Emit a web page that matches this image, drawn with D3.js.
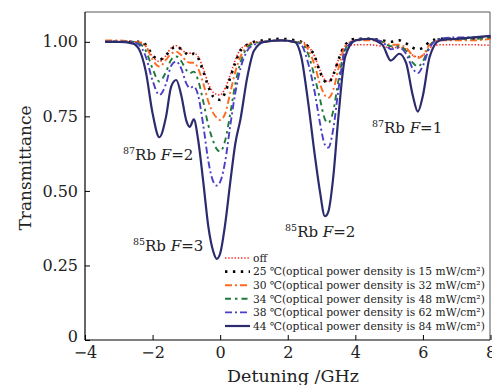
<!DOCTYPE html>
<html><head><meta charset="utf-8">
<script src="https://cdn.jsdelivr.net/npm/d3@7"></script>
<style>
html,body{margin:0;padding:0;background:#fff;}
svg{display:block;font-family:"DejaVu Serif",serif;}
text{font-family:"DejaVu Serif",serif;}
</style></head>
<body><svg id="c" width="492" height="385"></svg>
<script>
// detuning grid (GHz)
const detuning = [-3.4,-3.0,-2.6,-2.4,-2.2,-2.0,-1.8,-1.6,-1.45,-1.3,-1.15,-1.0,-0.9,-0.78,-0.65,-0.5,-0.35,-0.2,-0.1,0.0,0.15,0.3,0.45,0.6,0.8,1.0,1.3,1.8,2.2,2.4,2.6,2.8,2.95,3.1,3.2,3.35,3.5,3.7,4.0,4.4,4.8,5.05,5.3,5.5,5.7,5.85,6.0,6.2,6.5,7.0,7.5,8.0];

const offVals = [1.0,1.0,1.0,1.0,0.985,0.95,0.934,0.955,0.98,0.987,0.975,0.963,0.962,0.962,0.95,0.91,0.86,0.83,0.824,0.822,0.845,0.89,0.94,0.975,0.99,1.0,1.0,1.005,1.0,1.0,0.985,0.95,0.905,0.872,0.866,0.89,0.94,0.985,0.99,0.99,0.985,0.98,0.982,0.975,0.955,0.95,0.955,0.98,0.99,0.99,0.99,0.988];
const t25Vals = [1.0,1.0,1.0,1.0,0.99,0.955,0.94,0.955,0.975,0.984,0.975,0.96,0.955,0.96,0.945,0.9,0.85,0.815,0.808,0.805,0.83,0.88,0.93,0.97,0.99,1.0,1.005,1.01,1.005,1.0,0.985,0.95,0.9,0.868,0.863,0.89,0.94,0.99,1.01,1.01,1.005,1.0,1.005,0.995,0.98,0.975,0.98,1.0,1.01,1.01,1.01,1.015];
const t30Vals = [1.005,1.005,1.0,0.998,0.985,0.94,0.917,0.94,0.96,0.967,0.955,0.935,0.93,0.93,0.91,0.86,0.8,0.76,0.745,0.738,0.76,0.83,0.9,0.95,0.985,0.998,1.0,1.005,1.0,0.998,0.975,0.92,0.86,0.82,0.812,0.84,0.91,0.985,1.005,1.005,1.0,0.99,0.99,0.98,0.955,0.945,0.955,0.99,1.005,1.005,1.005,1.01];
const t34Vals = [1.0,1.0,1.0,0.995,0.97,0.91,0.867,0.9,0.94,0.951,0.935,0.905,0.895,0.9,0.87,0.8,0.72,0.665,0.64,0.632,0.67,0.76,0.86,0.93,0.98,0.995,1.0,1.005,1.0,0.995,0.96,0.88,0.81,0.74,0.728,0.77,0.87,0.975,1.005,1.01,1.0,0.985,0.985,0.97,0.93,0.917,0.935,0.985,1.01,1.01,1.01,1.015];
const t38Vals = [1.0,1.0,1.0,0.99,0.95,0.87,0.822,0.86,0.92,0.934,0.91,0.86,0.845,0.85,0.82,0.72,0.6,0.53,0.518,0.53,0.6,0.72,0.83,0.91,0.97,0.99,1.0,1.005,1.0,0.99,0.93,0.83,0.73,0.655,0.645,0.71,0.84,0.97,1.005,1.01,1.0,0.975,0.98,0.96,0.91,0.895,0.92,0.98,1.01,1.015,1.015,1.02];
const t44Vals = [1.0,1.0,0.995,0.975,0.9,0.76,0.68,0.75,0.85,0.872,0.82,0.735,0.715,0.74,0.67,0.53,0.38,0.295,0.272,0.29,0.39,0.53,0.66,0.74,0.88,0.97,1.0,1.005,1.0,0.95,0.8,0.62,0.5,0.415,0.43,0.55,0.75,0.95,1.005,1.01,0.99,0.937,0.96,0.93,0.82,0.766,0.82,0.95,1.005,1.01,1.015,1.02];

const seriesNames = ["off",
 "25 ℃(optical power density is 15 mW/cm²)",
 "30 ℃(optical power density is 32 mW/cm²)",
 "34 ℃(optical power density is 48 mW/cm²)",
 "38 ℃(optical power density is 62 mW/cm²)",
 "44 ℃(optical power density is 84 mW/cm²)"];
const seriesValues = [offVals,t25Vals,t30Vals,t34Vals,t38Vals,t44Vals];

const xTicks = [-4,-2,0,2,4,6,8];
const yTicks = [0,0.25,0.5,0.75,1.0];
const yTickLabels = ["0","0.25","0.50","0.75","1.00"];

const annotations = [
 {sup:"87", txt:"F=2", x:-2.875, y:0.604},
 {sup:"85", txt:"F=3", x:-2.58, y:0.298},
 {sup:"85", txt:"F=2", x:1.92, y:0.345},
 {sup:"87", txt:"F=1", x:4.49, y:0.694}
];

const styles = [
 {color:"#ff2a2a", width:1.6, dash:"1.4,1.8"},
 {color:"#000000", width:2.6, dash:"2.4,5.5"},
 {color:"#ff6a1f", width:1.9, dash:"7,3,2,3"},
 {color:"#1f7a3c", width:1.9, dash:"6,4,2.5,4"},
 {color:"#4b3fc8", width:1.9, dash:"7,3,2,3"},
 {color:"#2b2b6e", width:2.2, dash:null}
];

const svg = d3.select("#c");
const L=85, R=490, T=12, B=340;
const x = d3.scaleLinear().domain([-4,8]).range([L,R+0.5]);
const y = d3.scaleLinear().domain([0,1.1]).range([B,T]);

// frame top & right
svg.append("path").attr("d",`M${L},${T}H${R}V${B}`).attr("fill","none").attr("stroke","#555").attr("stroke-width",1);

const line = d3.line().x(d=>x(d[0])).y(d=>y(d[1])).curve(d3.curveMonotoneX);
const g = svg.append("g");
seriesValues.forEach((vals,i)=>{
  const st = styles[i];
  g.append("path").datum(detuning.map((d,j)=>[d,vals[j]]))
   .attr("d",line).attr("fill","none").attr("stroke",st.color)
   .attr("stroke-width",st.width).attr("stroke-dasharray",st.dash)
   .attr("stroke-linejoin","round");
});

// axes
const xa = svg.append("g").attr("transform",`translate(0,${B})`)
  .call(d3.axisBottom(x).tickValues(xTicks).tickSize(-5).tickPadding(7).tickSizeOuter(0));
const ya = svg.append("g").attr("transform",`translate(${L},0)`)
  .call(d3.axisLeft(y).tickValues(yTicks).tickFormat((d,i)=>yTickLabels[i]).tickSize(-5).tickPadding(7).tickSizeOuter(0));
[xa,ya].forEach(a=>{
  a.select(".domain").attr("stroke","#000").attr("stroke-width",1.2);
  a.selectAll(".tick line").attr("stroke","#000").attr("stroke-width",1);
  a.selectAll(".tick text").attr("fill","#222").style("font-family","DejaVu Serif").style("font-size","16px");
});
ya.select(".domain").attr("d",`M0,${B}V${T}`);
xa.select(".domain").attr("d",`M${L},0H${R}`);
ya.selectAll(".tick").filter(d=>d===0).select("text").attr("dy","0.1em");

svg.append("text").attr("x",293).attr("y",382).attr("text-anchor","middle")
  .style("font-size","17.5px").attr("fill","#222").text("Detuning /GHz");
svg.append("text").attr("transform","translate(31,168) rotate(-90)").attr("text-anchor","middle")
  .style("font-size","17px").attr("fill","#222").text("Transmittance");

// annotations
annotations.forEach(a=>{
  const t = svg.append("text").attr("x",x(a.x)).attr("y",y(a.y)).attr("fill","#222").style("font-size","15px");
  t.append("tspan").style("font-size","9.5px").attr("dy","-6").text(a.sup);
  t.append("tspan").attr("dy","6").text("Rb ");
  t.append("tspan").style("font-style","italic").text(a.txt[0]);
  t.append("tspan").text(a.txt.slice(1));
});

// legend
const lg = svg.append("g");
seriesNames.forEach((n,i)=>{
  const yy = 258 + i*13.6;
  const st = styles[i];
  lg.append("line").attr("x1",225).attr("x2",250).attr("y1",yy).attr("y2",yy)
    .attr("stroke",st.color).attr("stroke-width",st.width).attr("stroke-dasharray",st.dash);
  lg.append("text").attr("x",253).attr("y",yy).attr("dy","0.35em").attr("fill","#222")
    .style("font-size","10.7px").text(n);
});
</script></body></html>
